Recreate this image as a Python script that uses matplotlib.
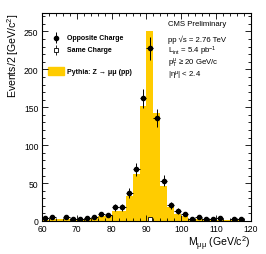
import numpy as np
import matplotlib
matplotlib.use("Agg")
import matplotlib.pyplot as plt
from matplotlib.ticker import MultipleLocator

plt.rcParams['font.family'] = ['Liberation Sans', 'DejaVu Sans']
plt.rcParams['mathtext.fontset'] = 'custom'
plt.rcParams['mathtext.rm'] = 'Liberation Sans'
plt.rcParams['mathtext.it'] = 'Liberation Sans:italic'
plt.rcParams['mathtext.default'] = 'regular'

bin_edges = list(range(60, 122, 2))
opposite_charge = [4, 5, 0, 5, 2, 3, 4, 5, 9, 8, 18, 18, 37, 68, 162,
                   228, 136, 53, 21, 13, 9, 3, 5, 2, 2, 4, 0, 3, 2, 0]
same_charge = [0, 0, 0, 0, 0, 0, 0, 0, 0, 0, 0, 0, 0, 0, 0,
               2, 0, 0, 0, 0, 0, 0, 0, 0, 0, 0, 0, 0, 0, 0]
pythia_mc = [1.5, 2, 2, 2, 2, 2.5, 3, 4, 7, 7, 13, 13, 33, 62, 152,
             250, 143, 46, 19, 9, 6, 3, 3, 2, 1.5, 1.5, 1, 1, 1, 0.5]

edges = np.array(bin_edges, dtype=float)
centers = 0.5 * (edges[:-1] + edges[1:])
halfw = 0.5 * (edges[1:] - edges[:-1])

fig = plt.figure(figsize=(2.66, 2.55), dpi=100)
ax = fig.add_axes([42/266, 1 - 222/255, (251-42)/266, (222-13.5)/255])

ax.stairs(pythia_mc, edges, fill=True, color='#ffcc00', zorder=1)

oc = np.array(opposite_charge, dtype=float)
m = oc > 0
ax.errorbar(centers[m], oc[m], yerr=np.sqrt(oc[m]), xerr=halfw[m], fmt='o',
            color='black', ms=3, elinewidth=0.7, capsize=0, zorder=3)
sc = np.array(same_charge, dtype=float)
ms_ = sc > 0
ax.errorbar(centers[ms_], sc[ms_], yerr=np.sqrt(sc[ms_]), xerr=0, fmt='s',
            color='black', mfc='white', ms=2.8, mew=0.6, elinewidth=0.6,
            capsize=0, zorder=3)

ax.set_xlim(60, 120)
ax.set_ylim(0, 275)
ax.xaxis.set_major_locator(MultipleLocator(10))
ax.xaxis.set_minor_locator(MultipleLocator(2))
ax.yaxis.set_major_locator(MultipleLocator(50))
ax.yaxis.set_minor_locator(MultipleLocator(10))
ax.tick_params(which='both', direction='in', top=True, right=True,
               labelsize=6.2, width=0.6)
ax.tick_params(which='major', length=4)
ax.tick_params(which='minor', length=2)
ax.tick_params(axis='x', pad=2.2)
ax.tick_params(axis='y', pad=2.5)
for s in ax.spines.values():
    s.set_linewidth(0.8)

ax.set_ylabel('Events/2 [GeV/c$^{2}$]', fontsize=7.6, loc='top', labelpad=2)
ax.set_xlabel('M$_{μμ}$ (GeV/c$^{2}$)', fontsize=7.6, loc='right', labelpad=0.5)

# legend (manual)
tr = ax.transAxes
def ax_xy(px, py):
    return ((px - 42) / (251 - 42), (222 - py) / (222 - 13.5))

x0, y0 = ax_xy(56, 38.5)
ax.errorbar([x0], [y0], yerr=[0.025], fmt='o', color='black', ms=3,
            elinewidth=0.7, transform=tr, clip_on=False)
x0, y0 = ax_xy(56, 51)
ax.errorbar([x0], [y0], yerr=[0.025], fmt='s', color='black', mfc='white',
            ms=2.8, mew=0.6, elinewidth=0.6, transform=tr, clip_on=False)
bx0, by0 = ax_xy(48, 76)
bx1, by1 = ax_xy(64, 68)
ax.add_patch(plt.Rectangle((bx0, by0), bx1 - bx0, by1 - by0, color='#ffcc00',
                           transform=tr, clip_on=False))
tx, _ = ax_xy(67, 0)
for py, label in [(38.5, 'Opposite Charge'), (51, 'Same Charge'),
                  (72, 'Pythia: Z → μμ (pp)')]:
    _, ty = ax_xy(0, py)
    ax.text(tx, ty, label, transform=tr, fontsize=5, fontweight='bold',
            va='center', ha='left')

tx, _ = ax_xy(168.5, 0)
for py, label in [(25, 'CMS Preliminary'),
                  (39.5, 'pp √s = 2.76 TeV'),
                  (51, 'L$_{int}$ = 5.4 pb$^{-1}$'),
                  (63.5, 'p$_{T}^{μ}$ ≥ 20 GeV/c'),
                  (75.5, '|η$^{μ}$| < 2.4')]:
    _, ty = ax_xy(0, py)
    ax.text(tx, ty, label, transform=tr, fontsize=5.6, va='center', ha='left')

fig.savefig('out.png', dpi=100)
